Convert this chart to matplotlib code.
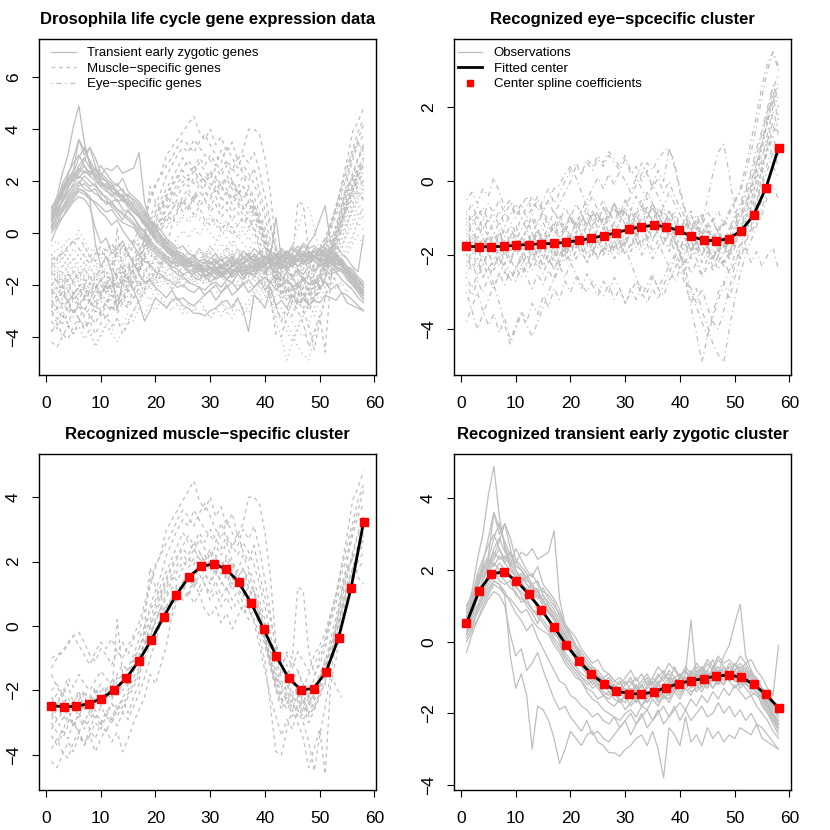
import numpy as np
import matplotlib
matplotlib.use("Agg")
import matplotlib.pyplot as plt
from matplotlib.lines import Line2D

plt.rcParams['font.family'] = ['Liberation Sans', 'DejaVu Sans']

nan = np.nan
time = np.arange(1, 59)
knot_x = np.linspace(1, 58, 26)

# center spline coefficients
eye_coef = [-1.76, -1.77, -1.77, -1.76, -1.73, -1.71, -1.69, -1.68, -1.65, -1.60,
            -1.54, -1.47, -1.39, -1.30, -1.23, -1.19, -1.23, -1.33, -1.49, -1.59,
            -1.61, -1.55, -1.34, -0.92, -0.17, 0.90]
muscle_coef = [-2.47, -2.51, -2.49, -2.41, -2.25, -1.99, -1.62, -1.08, -0.43, 0.29,
               0.97, 1.52, 1.85, 1.93, 1.77, 1.36, 0.71, -0.09, -0.93, -1.62,
               -1.98, -1.94, -1.42, -0.37, 1.17, 3.22]
trans_coef = [0.51, 1.41, 1.90, 1.95, 1.70, 1.32, 0.89, 0.41, -0.09, -0.53,
              -0.90, -1.17, -1.37, -1.45, -1.46, -1.40, -1.28, -1.17, -1.09, -1.03,
              -0.96, -0.93, -0.99, -1.19, -1.47, -1.85]

# observations
trans_obs = [
    [0.9, 1.4, 2.3, 3.0, 4.1, 4.9, 3.5, 2.6, 2.1, 1.8,
     1.6, 1.5, 1.2, 1.3, 1.0, 0.8, 0.6, 0.3, 0.0, -0.3,
     -0.5, -0.7, -0.9, -1.1, -1.0, -1.3, -1.2, -1.4, -1.5, -1.3,
     -1.6, -1.2, -1.4, -1.3, -1.1, -1.5, -1.2, -1.0, -1.3, -0.9,
     -1.1, -1.2, -0.8, -1.0, -1.1, -0.9, -0.7, -0.9, -1.0, -0.8,
     -0.9, -1.2, -0.8, -1.1, -1.5, -1.7, -2.0, -2.2],
    [0.7, 1.1, 1.6, 2.2, 2.9, 3.6, 3.2, 2.8, 2.4, 2.2,
     2.5, 2.4, 2.6, 2.3, 2.4, 2.5, 3.1, 1.2, 0.5, 0.2,
     -0.2, -0.5, -0.7, -1.0, -0.9, -1.2, -1.1, -1.3, -1.4, -1.2,
     -1.1, -1.4, -1.2, -1.0, -1.3, -1.2, -0.9, -1.1, -1.0, -1.2,
     -0.9, 0.6, -1.0, -0.8, -1.1, -0.7, -0.9, -0.8, -1.0, -0.6,
     -0.9, -0.7, -1.0, -1.2, -1.4, -1.6, -1.9, -2.1],
    [0.3, 0.6, 0.9, 1.2, 1.5, 1.7, 1.6, 1.3, -0.4, -1.3,
     -0.9, -1.5, -3.0, -1.8, -1.9, -2.2, -2.7, -3.4, -3.0, -2.5,
     -2.7, -2.9, -2.6, -2.5, -2.8, -2.9, -3.1, -3.1, -3.2, -3.0,
     -2.9, -2.7, -2.6, -2.9, -2.5, -3.0, -3.8, -2.4, -2.6, -2.9,
     -2.1, -2.8, -2.6, -2.9, -2.4, -2.7, -2.5, -2.8, -2.6, -2.7,
     -2.4, -2.5, -2.6, -2.3, -2.7, -2.8, -2.9, -3.0],
    [0.1, 0.4, 0.6, 0.9, 1.2, 1.4, 1.3, 1.0, 0.2, -0.4,
     -0.2, -0.8, -0.6, -0.3, -0.8, -1.2, -1.6, -1.9, -1.8, -2.1,
     -2.3, -2.5, -2.2, -2.6, -2.5, -2.7, -2.8, -2.6, -2.4, -2.2,
     -2.6, -2.3, -2.0, -2.4, -2.2, -1.9, -2.3, -2.1, -1.8, -2.2,
     -1.9, -2.2, -2.0, -1.8, -2.1, -2.0, -1.7, -2.0, -1.8, -2.1,
     -1.9, -2.2, -2.0, -2.3, -2.4, -2.6, -2.8, -3.0],
    [0.6, 1.1, 1.6, 2.0, 2.3, 2.9, 3.3, 2.7, 2.2, 1.9,
     1.7, 1.8, 1.5, 1.4, 1.1, 1.0, 0.7, 0.3, 0.1, -0.2,
     -0.4, -0.6, -0.9, -0.8, -1.1, -1.3, -1.2, -1.5, -1.4, -1.6,
     -1.3, -1.7, -1.5, -1.2, -1.4, -1.6, -1.3, -1.1, -1.4, -1.2,
     -1.0, -1.3, -1.1, -0.9, -1.2, -1.0, -0.8, -1.1, -0.9, -1.0,
     -1.1, -0.9, -1.2, -1.3, -1.5, -1.8, -2.0, -2.3],
    [1.0, 1.3, 1.7, 2.1, 2.4, 3.6, 3.0, 3.3, 2.6, 2.0,
     1.8, 1.6, 1.5, 1.2, 1.3, 1.0, 0.8, 0.5, 0.2, -0.1,
     -0.3, -0.6, -0.7, -1.0, -1.1, -1.0, -1.3, -1.2, -1.5, -1.4,
     -1.5, -1.3, -1.6, -1.4, -1.5, -1.2, -1.4, -1.3, -1.0, -1.2,
     -1.1, -0.9, -1.2, -1.0, -1.1, -0.8, -1.0, -0.7, -0.9, -1.1,
     -0.8, -1.0, -1.2, -1.1, -1.6, -1.7, -2.1, -2.4],
    [0.2, 0.7, 1.2, 1.5, 1.9, 2.2, 2.0, 1.8, 1.9, 1.5,
     1.4, 1.2, 1.3, 0.9, 0.8, 0.6, 0.2, 0.1, -0.3, -0.5,
     -0.7, -0.9, -1.0, -1.2, -1.1, -1.4, -1.5, -1.3, -1.6, -1.7,
     -1.4, -1.6, -1.8, -1.5, -1.3, -1.6, -1.4, -1.5, -1.2, -1.4,
     -1.3, -1.1, -1.4, -1.2, -1.0, -1.3, -1.1, -1.2, -0.9, -1.1,
     -1.2, -1.0, -1.3, -1.4, -1.6, -1.9, -2.2, -2.5],
    [0.8, 1.2, 1.5, 1.9, 2.2, 2.5, 2.3, 2.4, 2.1, 2.6,
     2.3, 2.0, 1.8, 2.1, 1.6, 1.4, 1.2, 0.9, 0.5, 0.3,
     0.1, -0.2, -0.4, -0.6, -0.5, -0.8, -0.9, -1.1, -1.0, -1.2,
     -1.0, -1.3, -1.1, -0.9, -1.2, -1.0, -0.8, -1.1, -0.7, -1.0,
     -0.8, -1.0, -0.7, -0.9, -0.6, -0.8, -0.5, -0.7, -0.9, -0.6,
     -0.8, -0.6, -0.9, -1.0, -1.3, -1.4, -1.7, -1.9],
    [0.4, 0.8, 1.3, 1.6, 1.8, 2.0, 1.7, 1.6, 1.7, 1.3,
     1.2, 1.1, 0.9, 0.8, 0.6, 0.4, 0.1, -0.1, -0.4, -0.6,
     -0.8, -1.0, -1.2, -1.1, -1.3, -1.5, -1.4, -1.6, -1.7, -1.5,
     -1.8, -1.6, -1.4, -1.7, -1.5, -1.3, -1.5, -1.2, -1.4, -1.0,
     -1.1, -1.2, -0.9, -1.0, -0.8, -0.5, -0.9, -0.4, -0.1, 0.5,
     1.05, -0.4, -0.8, -1.1, -1.3, -1.6, -1.8, -2.0],
    [0.0, 0.3, 0.9, 1.3, 1.6, 1.8, 1.9, 1.7, 1.5, 1.4,
     1.1, 1.2, 0.9, 0.7, 0.5, 0.3, 0.0, -0.2, -0.5, -0.7,
     -0.9, -1.1, -1.3, -1.4, -1.6, -1.5, -1.7, -1.8, -1.6, -1.9,
     -1.7, -1.5, -1.8, -1.6, -1.4, -1.7, -1.5, -1.6, -1.3, -1.5,
     -1.2, -1.4, -1.3, -1.1, -1.3, -1.0, -1.2, -0.9, -1.1, -1.0,
     -1.3, -1.1, -1.4, -1.5, -1.7, -2.0, -2.3, -2.6],
    [-0.3, 0.2, 0.6, 1.0, 1.3, 1.6, 1.5, 1.3, 1.2, 1.0,
     0.8, 0.9, 0.6, 0.4, 0.3, 0.2, -0.1, -0.3, -0.6, -0.8,
     -1.0, -1.1, -1.4, -1.6, -1.7, -1.9, -2.0, -2.1, -2.2, -2.0,
     -1.9, -2.1, -1.8, -1.9, -1.6, -1.8, -1.5, -1.7, -1.4, -1.6,
     -1.3, -1.5, -1.2, -1.4, -1.1, -1.3, -1.0, -1.2, -0.9, -1.1,
     -1.0, -1.2, -1.3, -1.4, -1.6, -1.9, -2.1, -2.3],
    [0.6, 1.0, 1.8, 2.1, 2.0, 2.3, 2.6, 2.2, 2.5, 2.1,
     2.0, 1.7, 1.6, 1.4, 1.5, 1.2, 1.0, 0.8, 0.4, 0.2,
     -0.1, -0.3, -0.5, -0.7, -0.8, -1.0, -0.9, -1.1, -1.2, -1.0,
     -0.8, -1.1, -0.9, -1.2, -1.0, -0.7, -0.9, -0.6, -0.8, -1.0,
     -0.7, -0.9, -0.6, -0.8, -0.5, -0.7, -0.4, -0.6, -0.5, -0.7,
     -0.4, -0.6, -0.5, -0.8, -1.0, -1.3, -1.5, -0.1],
    [0.5, 0.9, 1.2, 1.8, 2.1, 2.4, 2.8, 3.3, 2.9, 2.3,
     2.1, 1.9, 1.6, 1.7, 1.3, 1.1, 0.9, 0.6, 0.3, 0.0,
     -0.2, -0.4, -0.6, -0.9, -1.0, -1.2, -1.1, -1.3, -1.1, -1.4,
     -1.2, -1.0, -1.3, -1.1, -1.2, -0.9, -1.1, -0.8, -1.0, -0.9,
     -1.1, -0.8, -1.0, -0.7, -0.9, -1.1, -0.8, -1.0, -0.7, -0.9,
     -0.8, -1.0, -0.9, -1.2, -1.4, -1.6, -1.8, -2.0],
    [0.9, 0.7, 1.0, 1.4, 1.7, 1.9, 2.2, 2.0, 1.8, 1.6,
     1.3, 1.0, 0.8, 0.5, 0.9, 0.6, 0.3, 0.0, -0.4, -0.6,
     -0.8, -1.0, -1.1, -1.3, -1.2, -1.5, -1.6, -1.4, -1.7, -1.5,
     -1.3, -1.6, -1.4, -1.7, -1.5, -1.3, -1.6, -1.4, -1.1, -1.3,
     -1.0, -1.2, -0.9, -1.1, -1.3, -1.0, -1.2, -0.9, -1.1, -1.3,
     -1.1, -1.3, -1.5, -1.4, -1.8, -2.0, -2.2, -2.4],
    [0.4, 1.0, 1.5, 2.0, 2.3, 2.1, 2.4, 2.2, 2.0, 1.8,
     1.9, 1.6, 1.4, 1.5, 1.1, 0.9, 0.6, 0.4, 0.1, -0.2,
     -0.4, -0.7, -0.8, -1.0, -1.2, -1.1, -1.4, -1.3, -1.5, -1.4,
     -1.6, -1.4, -1.2, -1.5, -1.3, -1.1, -1.4, -1.2, -1.3, -1.1,
     -1.2, -0.9, -1.1, -1.0, -0.8, -1.1, -0.9, -0.7, -1.0, -0.8,
     -0.7, -0.9, -1.1, -1.3, -1.5, -1.8, -2.1, -2.2],
    [0.7, 1.1, 1.4, 1.7, 2.1, 2.6, 2.9, 2.5, 2.3, 2.0,
     1.7, 1.4, 1.6, 1.3, 1.2, 0.8, 0.7, 0.4, 0.2, -0.1,
     -0.3, -0.5, -0.8, -0.7, -1.0, -1.1, -1.3, -1.2, -1.4, -1.3,
     -1.5, -1.7, -1.4, -1.6, -1.3, -1.5, -1.2, -1.4, -1.1, -1.3,
     -1.0, -1.2, -1.0, -1.3, -0.9, -1.1, -0.8, -1.0, -0.7, -0.9,
     -1.1, -0.8, -1.0, -1.3, -1.4, -1.7, -2.0, -2.3],
    [0.2, 0.5, 0.8, 1.1, 1.4, 1.7, 1.6, 1.4, 1.1, 0.8,
     0.6, 0.3, 0.5, 0.1, -0.2, -0.5, -0.8, -1.1, -1.2, -1.5,
     -1.6, -1.8, -1.9, -2.1, -2.0, -2.2, -2.3, -2.1, -2.4, -2.2,
     -2.0, -2.3, -2.1, -1.9, -2.2, -2.0, -1.8, -2.1, -1.9, -1.7,
     -1.9, -1.6, -1.8, -1.5, -1.7, -1.4, -1.6, -1.3, -1.5, -1.2,
     -1.4, -1.6, -1.5, -1.8, -2.0, -2.2, -2.5, -2.7],
    [1.0, 1.2, 1.9, 2.3, 2.7, 3.0, 2.6, 2.3, 2.5, 2.2,
     2.0, 1.8, 1.9, 1.6, 1.4, 1.3, 1.1, 0.7, 0.4, 0.1,
     -0.1, -0.4, -0.6, -0.8, -0.9, -1.1, -1.0, -1.2, -1.3, -1.1,
     -1.4, -1.2, -1.5, -1.3, -1.0, -1.2, -1.0, -0.9, -1.2, -1.0,
     -0.8, -1.1, -0.9, -0.7, -1.0, -0.8, -1.1, -0.9, -0.6, -0.8,
     -0.6, -0.8, -1.0, -1.1, -1.3, -1.5, -1.8, -2.1],
]

muscle_obs = [
    [-1.0, -0.9, -0.8, -0.6, -0.3, -0.6, -0.9, -1.2, -0.8, -0.5,
     -0.7, -0.4, -0.8, -0.5, -0.9, -0.4, -0.2, 0.5, 1.2, 1.8,
     2.3, 3.0, 3.3, 3.6, 3.9, 4.2, 4.5, 3.9, 3.6, 4.0,
     3.4, 3.7, 3.1, 3.5, 2.8, 3.2, 4.0, 4.0, 3.8, 2.9,
     1.5, -0.5, -1.2, -0.9, -1.3, -0.8, -1.1, -1.4, -0.9, -0.6,
     -0.2, 0.4, 1.0, 1.9, 2.8, 3.9, 4.3, 4.8],
    [-2.0, -1.8, -2.1, -1.6, -1.9, -1.5, -1.8, -2.0, -1.7, -1.4,
     -1.6, -1.9, -1.5, -1.2, -1.4, -1.0, -0.7, -0.2, 0.6, 1.1,
     1.6, 2.2, 2.6, 3.0, 3.3, 3.1, 3.6, 3.3, 3.0, 2.8,
     2.6, 3.2, 2.7, 2.4, 2.9, 2.3, 2.0, 2.5, 1.6, 0.9,
     0.2, -0.6, -1.2, -1.5, -1.1, -1.4, -1.8, -2.2, -1.6, -1.0,
     -0.5, 0.3, 0.9, 1.6, 2.2, 3.0, 3.6, 4.2],
    [-4.2, -4.4, -4.0, -3.6, -3.9, -3.4, -3.7, -3.2, -3.5, -3.0,
     -3.3, -2.8, -3.1, -2.7, -2.9, -2.5, -2.1, -1.6, -1.0, -0.5,
     0.1, 0.6, 0.9, 1.3, 1.1, 1.5, 1.2, 1.6, 1.3, 1.0,
     1.4, 0.9, 1.2, 0.8, 1.1, 0.7, 0.5, 0.2, -0.3, -1.1,
     -2.5, -3.9, -4.0, -3.2, -2.6, -3.0, -3.5, -4.4, -3.8, -3.2,
     -4.6, -1.8, -1.0, 0.2, 1.0, 1.6, 2.3, 2.7],
    [-2.6, -2.9, -2.7, -3.0, -2.5, -2.8, -2.4, -2.6, -2.2, -2.5,
     -2.0, -2.3, -1.7, -1.5, -1.9, -1.2, -0.9, -0.5, 0.0, 0.4,
     0.8, 1.2, 1.5, 1.9, 2.2, 2.0, 2.4, 2.1, 1.8, 2.3,
     1.9, 1.6, 2.1, 1.7, 1.4, 1.8, 1.2, 0.9, 0.4, -0.3,
     -1.0, -1.6, -2.1, -1.8, -2.3, -2.0, -2.5, -2.2, -1.9, -1.5,
     -1.1, -0.4, 0.3, 1.1, 1.7, 2.1, 2.5, 2.9],
    [-3.0, -3.3, -3.5, -3.1, -2.9, -3.3, -3.6, -3.4, -3.0, -3.2,
     -2.8, -3.0, -2.6, -2.3, -2.7, -2.2, -1.8, 0.0, 1.8, 1.2,
     0.9, 1.3, 1.6, 1.4, 1.8, 2.1, 1.9, 2.3, 2.0, 1.7,
     2.2, 1.8, 1.5, 2.0, 1.6, 1.3, 1.7, 1.1, 0.6, 0.0,
     -0.8, -1.5, -1.9, -1.6, -2.2, -1.9, -2.4, -2.1, -2.6, -2.0,
     -1.6, -0.9, -0.2, 0.6, 1.3, 1.8, 2.2, 2.6],
    [-1.5, -1.9, -2.2, -1.8, -2.4, -2.0, -2.6, -2.3, -2.0, -2.4,
     -1.9, -2.2, 0.2, -1.5, -1.8, -1.4, -1.0, -0.6, -0.2, 0.2,
     0.5, 0.9, 1.2, 1.0, 1.4, 1.7, 1.3, 1.9, 1.6, 1.4,
     1.8, 1.3, 1.6, 1.1, 1.4, 1.0, 0.7, 0.9, 0.3, -0.4,
     -1.1, -1.8, -1.4, -0.8, -1.0, 1.2, 1.1, -0.8, -1.5, -1.2,
     -0.7, 0.1, 0.7, 1.3, 1.8, 2.1, 1.5, 1.3],
    [-3.8, -3.5, -3.9, -4.1, -3.6, -3.3, -3.7, -3.4, -3.9, -3.5,
     -3.2, -3.6, -3.3, -3.9, -3.5, -3.0, -2.6, -2.2, -1.5, -1.8,
     -1.2, -0.6, 0.3, 0.8, 1.2, 0.9, 1.4, 1.0, 1.3, 0.8,
     1.1, 0.6, 0.9, 0.5, 0.8, 0.4, 0.6, 0.1, -0.6, -1.4,
     -2.2, -2.8, -3.4, -2.9, -3.2, -2.6, -3.0, -3.6, -4.5, -3.4,
     -2.5, -1.5, -0.5, 0.4, 1.2, 1.6, 2.0, 2.3],
    [-2.2, -2.5, -2.0, -2.7, -2.3, -2.6, -2.1, -2.8, -2.4, -2.0,
     -2.3, -1.9, -2.1, -1.6, -1.3, -0.9, -0.4, 0.0, 0.5, 0.8,
     1.3, 1.7, 2.1, 2.5, 2.9, 2.6, 2.3, 2.7, 2.4, 2.1,
     2.5, 2.2, 2.6, 2.0, 1.7, 2.2, 1.8, 1.4, 0.8, 0.2,
     -0.6, -1.3, -1.9, -2.4, -2.0, -2.6, -2.3, -2.8, -2.5, -2.1,
     -1.8, -1.0, 0.0, 1.0, 2.0, 2.8, 3.4, 3.8],
    [-2.8, -2.4, -2.9, -2.6, -3.1, -2.8, -3.2, -2.9, -2.6, -3.0,
     -2.7, -2.4, -2.8, -2.5, -2.1, -1.8, -1.4, -0.9, -0.3, 0.1,
     0.6, 0.4, 0.9, 1.2, 0.8, 1.1, 0.7, 1.0, 0.5, 0.3,
     0.6, 0.1, 0.4, -0.1, 0.3, 0.6, 0.2, 0.5, 0.0, -0.6,
     -1.3, -2.0, -2.6, -2.2, -2.8, -2.5, -2.1, -2.7, -2.3, -1.9,
     -1.4, -0.6, -0.2, 0.5, 0.9, 1.4, 1.8, 2.0],
    [-1.3, -1.0, -0.8, -0.5, -0.3, -0.2, -0.5, -0.9, -1.1, -0.7,
     -0.9, -1.2, -0.8, -1.0, -0.6, -0.3, 0.1, 0.7, 1.4, 1.9,
     2.2, 2.6, 2.9, 3.3, 3.6, 3.4, 3.1, 3.5, 3.8, 3.4,
     3.0, 2.7, 3.3, 2.9, 2.5, 3.0, 2.7, 3.1, 2.4, 1.4,
     0.4, -0.8, -1.5, -1.2, -1.7, -1.4, -1.9, -1.5, -1.2, -0.8,
     -0.4, 0.3, 1.0, 1.8, 2.5, 3.2, 3.9, 4.4],
    [-2.9, -2.6, -2.3, -2.7, -2.4, -2.1, -2.5, -2.2, -1.9, -2.3,
     -2.0, -1.7, -2.1, -1.8, -1.5, -1.1, -0.7, -0.3, 0.2, 0.7,
     1.1, 1.5, 1.9, 2.2, 2.5, 2.8, 2.5, 2.9, 2.6, 3.0,
     2.7, 2.4, 2.8, 2.5, 2.2, 2.6, 2.3, 1.9, 1.3, 0.6,
     -0.3, -1.0, -1.7, -2.0, -1.6, -2.2, -1.8, -2.4, -2.0, -1.7,
     -1.2, -0.6, 0.0, 0.8, 1.5, 2.2, 2.8, 3.3],
    [-3.4, -3.7, -3.2, -3.5, -3.0, -3.3, -2.9, -3.2, -2.8, -3.1,
     -2.6, -2.9, -2.4, -2.7, -2.2, -1.9, -1.5, -1.0, -0.6, -0.1,
     0.3, 0.7, 0.5, 0.9, 1.3, 1.0, 1.5, 1.2, 1.6, 1.3,
     1.7, 1.4, 1.1, 1.5, 1.2, 0.9, 1.2, 0.7, 0.2, -0.5,
     -1.2, -1.9, -2.3, -2.0, -2.5, -2.2, -2.7, -2.4, -2.1, -1.6,
     -1.0, -1.4, -1.9, -2.2, nan, nan, nan, nan],
    [-2.4, -2.1, -2.5, -2.2, -2.6, -2.3, -2.0, -2.4, -2.1, -1.8,
     -2.2, -1.9, -1.6, -2.0, -1.7, -1.4, -1.0, -0.6, 0.0, 0.5,
     1.0, 1.4, 1.8, 2.1, 2.4, 2.2, 2.6, 2.3, 2.0, 2.4,
     2.1, 1.8, 2.2, 1.9, 1.5, 1.8, 1.4, 1.0, 0.3, -0.4,
     -1.2, -1.9, -2.4, -2.1, -2.6, -2.3, -2.9, -2.5, -2.2, -1.8,
     -1.3, -0.7, 0.1, 0.9, 1.6, 2.3, 2.9, 3.4],
    [-3.2, -2.9, -3.3, -2.8, -3.1, -2.7, -3.0, -2.6, -2.9, -2.5,
     -2.8, -2.4, -2.6, -2.2, -2.0, -1.6, -1.3, -0.8, -0.4, 0.2,
     0.6, 1.0, 1.4, 1.7, 2.0, 1.8, 2.1, 1.9, 2.2, 1.9,
     1.6, 2.0, 1.7, 1.3, 1.6, 1.2, 0.9, 1.1, 0.5, -0.2,
     -1.0, -1.7, -2.2, -2.6, -2.3, -2.8, -2.5, -3.0, -2.6, -2.2,
     -1.7, -1.0, -0.3, 0.5, 1.2, 1.8, 2.4, 2.8],
]

eye_obs = [
    [-0.5, -0.3, -0.6, -0.2, -0.4, 0.1, -0.3, -0.7, -0.5, -0.9,
     -0.6, -1.0, -0.7, -0.4, -0.8, -0.5, -0.9, -0.6, -0.3, 0.0,
     0.4, 0.2, 0.5, 0.3, 0.6, 0.4, 0.7, 0.5, 0.3, 0.6,
     0.2, 0.4, 0.0, 0.3, -0.2, 0.1, -0.3, 0.0, -0.4, -0.7,
     -1.0, -0.8, -1.2, -0.9, -1.3, -1.0, -1.4, -1.1, -0.8, -0.5,
     -0.3, 0.2, 0.8, 1.5, 2.3, 3.0, 3.5, 3.1],
    [-3.8, -3.4, -3.0, -3.5, -3.9, -3.6, -4.1, -3.7, -4.3, -3.9,
     -3.5, -3.8, -3.3, -3.6, -3.1, -3.4, -2.9, -3.2, -2.7, -3.0,
     -2.6, -2.9, -2.5, -2.8, -3.1, -2.7, -3.0, -2.6, -2.9, -3.3,
     -2.9, -3.2, -2.8, -3.0, -2.6, -2.9, -3.1, -2.7, -2.4, -2.0,
     -2.6, -3.4, -4.1, -4.9, -4.2, -3.6, -3.0, -2.7, -3.2, -2.6,
     -2.1, -1.7, -1.2, -0.6, 0.2, 1.1, 1.9, 1.4],
    [-1.4, -1.7, -1.2, -1.5, -1.9, -1.6, -1.3, -1.8, -1.5, -1.2,
     -1.6, -1.3, -1.0, -1.4, -1.1, -1.5, -1.2, -0.9, -1.3, -1.0,
     -1.4, -1.1, -0.8, -1.2, -0.9, -1.3, -1.0, -0.7, -1.1, -0.8,
     -1.2, -0.9, -0.6, -1.0, -0.7, -1.1, -1.4, -1.0, -1.5, -1.9,
     -2.4, -2.0, -1.6, -1.1, -0.5, 0.2, 0.8, 1.0, 0.2, -0.8,
     -1.5, -1.2, -0.8, -0.3, 0.4, 0.9, 1.5, 1.2],
    [-2.0, -2.4, -2.1, -2.6, -2.3, -2.8, -2.5, -2.2, -2.7, -2.4,
     -2.1, -2.5, -2.2, -1.9, -2.3, -2.0, -2.4, -2.1, -1.8, -2.2,
     -1.9, -1.6, -2.0, -1.7, -2.1, -1.8, -1.5, -1.9, -1.6, -2.0,
     -1.7, -1.4, -1.8, -1.5, -1.9, -1.6, -2.0, -2.3, -2.0, -2.4,
     -2.8, -3.3, -2.9, -3.5, -3.9, -4.4, -4.7, -4.9, -4.0, -3.2,
     -2.5, -2.0, -1.6, -1.2, -0.9, -0.4, -0.1, -0.5],
    [-1.2, -0.9, -1.3, -1.0, -1.4, -1.1, -0.8, -1.2, -0.9, -0.6,
     -1.0, -0.7, -0.4, -0.8, -0.5, -0.2, -0.6, -0.3, 0.0, 0.3,
     0.5, 0.2, 0.6, 0.4, 0.7, 0.5, 0.8, 0.6, 0.4, 0.7,
     0.3, 0.1, 0.5, 0.2, -0.1, 0.3, 0.0, 0.9, 0.5, -0.2,
     -0.8, -1.2, -1.6, -1.3, -1.8, -1.5, -1.9, -1.6, -2.0, -1.7,
     -1.4, -1.0, -0.6, 0.1, 0.6, 1.3, 2.0, 2.6],
    [-2.5, -2.2, -2.6, -2.3, -1.9, -2.4, -2.1, -2.5, -2.2, -1.8,
     -2.3, -2.0, -2.4, -2.1, -1.7, -2.2, -1.9, -2.3, -2.0, -1.7,
     -2.1, -1.8, -2.2, -1.9, -1.6, -2.0, -1.7, -2.1, -1.8, -1.5,
     -1.9, -1.6, -2.0, -1.7, -2.1, -1.8, -1.5, -1.9, -1.6, -2.0,
     -1.7, -2.1, -1.8, -2.2, -1.9, -2.3, -2.0, -1.7, -2.1, -1.8,
     -1.5, -1.1, -0.7, -0.2, 0.3, 0.8, 1.2, 0.7],
    [-1.8, -1.5, -1.9, -1.6, -2.0, -1.7, -1.4, -1.8, -1.5, -1.9,
     -1.6, -1.3, -1.7, -1.4, -1.8, -1.5, -1.2, -1.6, -1.3, -1.7,
     -1.4, -1.1, -1.5, -1.2, -1.6, -1.3, -1.0, -1.4, -1.1, -0.8,
     -1.2, -0.9, -1.3, -1.0, -0.7, -1.1, -0.8, -1.2, -0.9, -1.3,
     -1.0, -1.4, -1.1, -1.5, -1.2, -1.6, -1.3, -1.7, -1.4, -1.1,
     -0.8, -0.4, 0.0, 0.5, 1.0, 1.6, 2.2, 1.8],
    [-3.0, -3.5, -4.0, -3.6, -3.2, -2.8, -3.3, -3.9, -4.4, -4.0,
     -3.6, -3.9, -4.2, -3.8, -3.4, -3.0, -2.6, -2.2, -1.8, -1.5,
     -1.1, -0.8, -1.2, -0.9, -1.3, -1.0, -1.4, -1.1, -1.5, -1.8,
     -2.2, -2.6, -3.0, -3.3, -2.9, -3.2, -2.8, -2.5, -2.1, -1.8,
     -1.5, -1.9, -1.6, -2.0, -1.7, -2.1, -1.8, -2.2, -1.9, -1.6,
     -1.3, -1.0, -1.4, -1.1, -0.7, -0.2, 0.5, 1.0],
    [-1.0, -1.3, -1.6, -1.2, -1.5, -1.9, -1.6, -1.3, -1.7, -1.4,
     -1.8, -2.1, -1.7, -2.0, -2.3, -1.9, -2.2, -1.8, -2.1, -1.7,
     -1.4, -1.8, -1.5, -1.9, -1.6, -1.2, -1.6, -1.3, -1.7, -1.4,
     -1.1, -1.5, -1.2, -1.6, -1.3, -1.0, -1.4, -1.1, -1.5, -1.2,
     -1.6, -1.3, -1.7, -1.4, -1.8, -1.5, -1.9, -1.6, -2.0, -1.7,
     -2.1, -1.8, -2.2, -1.9, -2.3, -2.0, -1.8, -2.4],
    [-1.5, -1.2, -0.9, -1.3, -1.0, -1.4, -1.1, -1.5, -1.2, -1.6,
     -1.3, -1.0, -1.4, -1.1, -0.8, -0.5, -0.2, -0.1, 0.2, 0.4,
     0.1, -0.3, -0.7, -0.4, -0.8, -0.5, -0.9, -0.6, -1.0, -0.7,
     -0.4, -0.1, 0.2, 0.5, 0.3, 0.6, 0.8, 0.9, 0.4, -0.3,
     -0.9, -1.3, -1.0, -1.4, -1.1, -1.5, -1.2, -1.6, -1.3, -1.0,
     -0.7, -0.3, 0.2, 0.7, 1.3, 1.9, 2.5, 2.9],
    [-2.2, -1.9, -2.3, -2.0, -2.4, -2.1, -1.8, -2.2, -1.9, -1.6,
     -2.0, -1.7, -2.1, -1.8, -1.5, -1.9, -1.6, -2.0, -1.7, -1.4,
     -1.8, -1.5, -1.2, -1.6, -1.3, -1.0, -1.4, -1.1, -0.8, -1.2,
     -0.9, -1.3, -1.0, -0.7, -1.1, -0.8, -1.2, -1.5, -1.9, -2.2,
     -2.6, -3.0, -3.4, -3.8, -4.2, -3.7, -3.2, -2.8, -2.4, -2.0,
     -1.7, -1.4, -1.0, -0.6, -0.1, 0.3, 0.8, 0.4],
    [-1.6, -1.9, -1.5, -1.8, -1.4, -1.7, -2.0, -1.6, -1.9, -1.5,
     -1.8, -1.4, -1.7, -1.3, -1.6, -1.2, -1.5, -1.1, -1.4, -1.0,
     -1.3, -0.9, -1.2, -0.8, -1.1, -0.7, -1.0, -0.6, -0.9, -0.5,
     -0.8, -0.4, -0.7, -0.3, -0.6, -0.9, -1.2, -0.8, -1.1, -1.4,
     -1.1, -1.5, -1.2, -1.6, -1.3, -1.7, -1.4, -1.8, -1.5, -1.2,
     -0.9, -0.6, -0.2, 0.3, 0.9, 1.6, 2.2, 2.7],
    [-2.8, -3.1, -2.7, -3.0, -2.6, -2.9, -2.5, -2.8, -2.4, -2.7,
     -2.3, -2.6, -2.9, -2.5, -2.8, -2.4, -2.7, -2.3, -2.6, -2.2,
     -2.5, -2.8, -3.0, -2.7, -2.9, -3.1, -2.8, -3.2, -2.9, -3.3,
     -3.0, -2.7, -3.1, -2.8, -2.5, -2.9, -2.6, -2.3, -2.7, -2.4,
     -2.1, -2.5, -2.2, -2.6, -2.3, -2.0, -2.4, -2.1, -2.5, -2.2,
     -1.9, -1.6, -1.3, -0.9, -0.5, -0.1, 0.4, 0.1],
    [-0.8, -1.1, -0.7, -1.0, -0.6, -0.9, -1.2, -0.8, -1.1, -1.4,
     -1.0, -1.3, -0.9, -1.2, -0.8, -1.1, -1.4, -1.0, -1.3, -0.9,
     -1.2, -0.8, -0.5, -0.2, 0.1, -0.2, 0.2, -0.1, 0.3, 0.0,
     -0.3, 0.1, -0.2, -0.5, -0.1, -0.4, -0.7, -0.3, -0.6, -0.9,
     -1.2, -0.9, -1.3, -1.0, -1.4, -1.1, -0.8, -1.2, -0.9, -0.6,
     -0.2, 0.4, 1.1, 1.8, 2.6, 3.2, 3.5, 3.0],
    [-0.9, -0.6, -1.0, -0.7, -1.1, -0.8, -0.5, -0.9, -0.6, -1.0,
     -0.7, -0.4, -0.8, -0.5, -0.9, -1.2, -0.8, -1.1, -0.7, -1.0,
     -0.6, -0.9, -1.2, -0.8, -1.1, -0.7, -1.0, -0.6, -0.9, -0.5,
     -0.8, -1.1, -0.7, -1.0, -0.6, -0.9, -1.2, -0.8, -1.1, -1.4,
     -1.0, -1.3, -0.9, -1.2, -0.8, -1.1, -1.4, -1.0, -1.3, -0.9,
     -0.6, -0.2, 0.3, 0.9, 1.4, 2.0, 2.6, 2.2],
    [-2.0, -1.7, -2.1, -1.8, -1.5, -1.9, -2.3, -1.9, -2.2, -1.8,
     -2.1, -1.7, -1.4, -1.8, -2.1, -1.7, -2.0, -1.6, -1.9, -1.5,
     -1.8, -1.4, -1.7, -2.0, -1.6, -1.9, -1.5, -1.8, -1.4, -1.7,
     -1.3, -1.6, -1.2, -1.5, -1.1, -1.4, -1.7, -1.3, -1.6, -1.9,
     -2.2, -1.8, -2.1, -2.5, -2.1, -2.4, -2.0, -2.3, -1.9, -1.6,
     -1.2, -0.8, -0.3, 0.2, 0.7, 1.1, 1.6, 1.3],
    [-1.3, -1.6, -1.9, -1.5, -1.8, -1.4, -1.7, -2.0, -1.6, -1.9,
     -1.5, -1.8, -1.4, -1.7, -1.3, -1.6, -1.9, -1.5, -1.2, -1.5,
     -1.1, -1.4, -1.0, -1.3, -0.9, -1.2, -0.8, -1.1, -0.7, -1.0,
     -1.3, -0.9, -1.2, -0.8, -1.1, -0.7, -1.0, -1.3, -1.6, -2.0,
     -2.4, -2.9, -3.3, -2.9, -3.4, -3.8, -4.0, -3.5, -2.9, -2.3,
     -1.8, -1.4, -0.9, -0.5, 0.0, 0.5, 1.0, 0.6],
    [-2.6, -2.9, -2.5, -2.2, -2.6, -2.3, -2.0, -2.4, -2.7, -2.3,
     -2.6, -2.2, -1.9, -2.3, -2.0, -1.7, -2.1, -1.8, -2.2, -1.9,
     -1.6, -2.0, -1.7, -1.4, -1.8, -1.5, -1.9, -1.6, -2.0, -1.7,
     -1.4, -1.8, -1.5, -1.2, -1.6, -1.3, -1.7, -1.4, -1.8, -1.5,
     -1.9, -1.6, -2.0, -1.7, -2.1, -1.8, -2.2, -1.9, -1.6, -1.3,
     -1.0, -0.7, -0.2, 0.4, 1.0, 1.7, 2.4, 2.0],
    [-1.1, -1.4, -1.8, -2.2, -1.9, -2.3, -2.0, -1.7, -2.1, -1.8,
     -1.5, -1.9, -1.6, -1.3, -1.7, -1.4, -1.1, -1.5, -1.2, -0.9,
     -1.3, -1.0, -0.7, -1.1, -0.8, -1.2, -0.9, -0.6, -1.0, -0.7,
     -1.1, -0.8, -0.5, -0.9, -0.6, -1.0, -0.7, -1.1, -0.8, -1.2,
     -1.5, -1.9, -1.6, -2.0, -1.7, -2.1, -1.8, -1.5, -1.9, -1.6,
     -1.3, -0.9, -0.5, 0.0, 0.4, 0.9, 1.3, 1.7],
    [-2.3, -2.0, -1.6, -1.9, -1.5, -1.8, -1.4, -1.7, -2.1, -2.4,
     -2.0, -2.3, -1.9, -2.2, -2.5, -2.1, -2.4, -2.0, -1.7, -2.0,
     -1.6, -1.9, -2.2, -1.8, -2.1, -1.7, -2.0, -1.6, -1.9, -1.5,
     -1.8, -1.4, -1.7, -1.3, -1.6, -1.2, -1.5, -1.8, -1.4, -1.7,
     -2.0, -1.6, -1.9, -1.5, -1.8, -2.1, -1.7, -2.0, -1.6, -1.3,
     -1.0, -0.6, -0.1, 0.5, 1.1, 1.8, 2.3, 1.6],
]

for grp in (trans_obs, muscle_obs, eye_obs):
    for s in grp:
        assert len(s) == 58

gray = '#BEBEBE'
lw_obs = 0.9
style_solid = dict(linestyle='-')
style_dash = dict(linestyle=(0, (3, 3)))
style_dot = dict(linestyle=(0, (1, 3)))
style_dashdot = dict(linestyle=(0, (1, 3, 4, 3)))

fig = plt.figure(figsize=(8.3, 8.3), dpi=100)
W = H = 830.0
def box(l, t, r, b):
    return [l / W, 1 - b / H, (r - l) / W, (b - t) / H]

ax1 = fig.add_axes(box(39, 39, 376, 375))
ax2 = fig.add_axes(box(454, 39, 791, 375))
ax3 = fig.add_axes(box(39, 454, 376, 790))
ax4 = fig.add_axes(box(454, 454, 791, 790))

xlim = (1 - 57 * 0.04, 58 + 57 * 0.04)


def style_axes(ax, ylim, yticks, title):
    ax.set_xlim(xlim)
    ax.set_ylim(ylim)
    ax.set_xticks([0, 10, 20, 30, 40, 50, 60])
    ax.set_yticks(yticks)
    ax.tick_params(direction='out', length=5, width=0.8, labelsize=12.5)
    ax.tick_params(axis='x', pad=10)
    ax.tick_params(axis='y', pad=8)
    for lab in ax.get_yticklabels():
        lab.set_rotation(90)
        lab.set_va('center')
    for sp in ax.spines.values():
        sp.set_linewidth(1.0)
    ax.set_title(title, fontsize=12, fontweight='bold', pad=11)


def plot_group(ax, obs, style):
    for s in obs:
        ax.plot(time, s, color=gray, lw=lw_obs, **style)


# panel 1: all genes
plot_group(ax1, muscle_obs, style_dash)
plot_group(ax1, eye_obs, style_dot)
plot_group(ax1, trans_obs, style_solid)
style_axes(ax1, (-5.48, 7.48), [-4, -2, 0, 2, 4, 6],
           'Drosophila life cycle gene expression data')
h1 = [Line2D([], [], color=gray, lw=lw_obs, **style_solid),
      Line2D([], [], color=gray, lw=lw_obs, **style_dash),
      Line2D([], [], color=gray, lw=lw_obs, **style_dashdot)]
ax1.legend(h1, ['Transient early zygotic genes', 'Muscle\u2212specific genes',
                'Eye\u2212specific genes'],
           loc='upper left', bbox_to_anchor=(12 / 337, 1 - 8 / 336), frameon=False,
           fontsize=9.5, borderaxespad=0, borderpad=0, handlelength=1.9,
           handletextpad=0.85, labelspacing=0.25)


def cluster_panel(ax, obs, style, coef, ylim, yticks, title, legend=False):
    plot_group(ax, obs, style)
    ax.plot(knot_x, coef, color='black', lw=2)
    ax.plot(knot_x, coef, ls='none', marker='s', ms=5.3, color='red')
    style_axes(ax, ylim, yticks, title)
    if legend:
        h = [Line2D([], [], color=gray, lw=lw_obs),
             Line2D([], [], color='black', lw=2),
             Line2D([], [], ls='none', marker='s', ms=4.5, color='red')]
        ax.legend(h, ['Observations', 'Fitted center', 'Center spline coefficients'],
                  loc='upper left', bbox_to_anchor=(4 / 337, 1 - 8 / 336),
                  frameon=False, fontsize=9.5, borderaxespad=0, borderpad=0,
                  handlelength=1.8, handletextpad=0.9, labelspacing=0.25)


cluster_panel(ax2, eye_obs, style_dashdot, eye_coef, (-5.24, 3.85), [-4, -2, 0, 2],
              'Recognized eye\u2212spcecific cluster', legend=True)
cluster_panel(ax3, muscle_obs, style_dash, muscle_coef, (-5.09, 5.34), [-4, -2, 0, 2, 4],
              'Recognized muscle\u2212specific cluster')
cluster_panel(ax4, trans_obs, style_solid, trans_coef, (-4.14, 5.24), [-4, -2, 0, 2, 4],
              'Recognized transient early zygotic cluster')

fig.savefig('out.png', dpi=100)
